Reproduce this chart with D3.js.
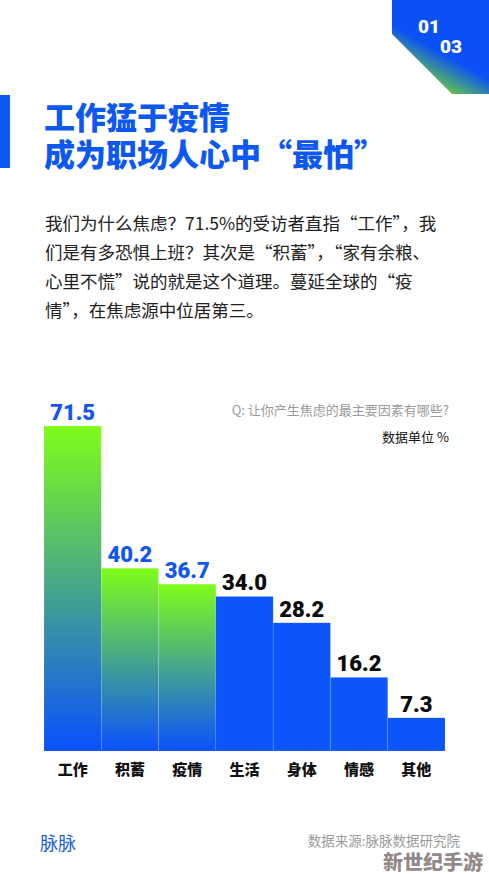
<!DOCTYPE html>
<html>
<head>
<meta charset="utf-8">
<script src="https://cdn.jsdelivr.net/npm/d3@7"></script>
<style>
  html, body { margin: 0; padding: 0; background: #fff; }
  svg { display: block; }
</style>
</head>
<body>
<svg id="chart" width="489" height="874"></svg>
<script>
// data
const categories = ["工作", "积蓄", "疫情", "生活", "身体", "情感", "其他"];
const values = [71.5, 40.2, 36.7, 34.0, 28.2, 16.2, 7.3];
const highlighted = ["工作", "积蓄", "疫情"];

const titleLines = ["工作猛于疫情", "成为职场人心中“最怕”"];
const bodyLines = [
  "我们为什么焦虑？71.5%的受访者直指“工作”，我",
  "们是有多恐惧上班？其次是“积蓄”，“家有余粮、",
  "心里不慌”说的就是这个道理。蔓延全球的“疫",
  "情”，在焦虑源中位居第三。"
];

const width = 489;
const height = 874;
const margin = { left: 44, right: 44, top: 426, bottom: 123 };

const blue = "#0b55fb";
const cjk = "'Noto Sans CJK SC', 'Noto Sans', sans-serif";
const num = "Roboto, 'Liberation Sans', sans-serif";

const svg = d3.select("#chart");

const defs = svg.append("defs");
// gradient for the first three bars, each bar its own box
const g1 = defs.append("linearGradient")
  .attr("id", "barGrad")
  .attr("x1", 0).attr("y1", 0).attr("x2", 0).attr("y2", 1);
g1.append("stop").attr("offset", "0%").attr("stop-color", "#80fc1a");
g1.append("stop").attr("offset", "100%").attr("stop-color", "#0a50fd");

// corner gradient
const g2 = defs.append("linearGradient")
  .attr("id", "cornerGrad")
  .attr("gradientUnits", "userSpaceOnUse")
  .attr("x1", 428).attr("y1", 92).attr("x2", 448).attr("y2", 56);
g2.append("stop").attr("offset", "0%").attr("stop-color", "#7ee41e");
g2.append("stop").attr("offset", "100%").attr("stop-color", "#0a50f5");

// top-right corner badge
svg.append("path")
  .attr("d", "M392,0 L489,0 L489,94 L452,94 L392,34 Z")
  .attr("fill", "url(#cornerGrad)");
svg.append("text")
  .attr("x", 418).attr("y", 26)
  .attr("dominant-baseline", "central")
  .attr("font-family", num).attr("font-weight", 900).attr("font-size", 19)
  .attr("fill", "#fff").text("01");
svg.append("text")
  .attr("x", 440).attr("y", 46)
  .attr("dominant-baseline", "central")
  .attr("font-family", num).attr("font-weight", 900).attr("font-size", 19)
  .attr("fill", "#fff").text("03");

// title (one text, two lines)
svg.append("rect")
  .attr("x", 0).attr("y", 95).attr("width", 10).attr("height", 73)
  .attr("fill", "#0d5af2");
svg.append("text")
  .attr("font-family", cjk)
  .attr("font-weight", 900)
  .attr("font-size", 31)
  .attr("fill", "#0d57f2")
  .selectAll("tspan")
  .data(titleLines)
  .join("tspan")
  .attr("x", 44)
  .attr("y", (d, i) => 115 + i * 37)
  .attr("dominant-baseline", "central")
  .text(d => d);

// body text
svg.append("g")
  .selectAll("text")
  .data(bodyLines)
  .join("text")
  .attr("x", 45)
  .attr("y", (d, i) => 222 + i * 29)
  .attr("dominant-baseline", "central")
  .attr("font-family", cjk)
  .attr("font-size", 17.5)
  .attr("fill", "#222")
  .text(d => d);

// question + unit
svg.append("text")
  .attr("x", 449).attr("y", 409)
  .attr("text-anchor", "end").attr("dominant-baseline", "central")
  .attr("font-family", cjk).attr("font-size", 13)
  .attr("fill", "#9a9a9a")
  .text("Q: 让你产生焦虑的最主要因素有哪些?");
svg.append("text")
  .attr("x", 449).attr("y", 436)
  .attr("text-anchor", "end").attr("dominant-baseline", "central")
  .attr("font-family", cjk).attr("font-size", 13)
  .attr("fill", "#111")
  .text("数据单位 %");

// scales
const x = d3.scaleBand()
  .domain(categories)
  .range([margin.left, width - margin.right])
  .padding(0);

const y = d3.scaleLinear()
  .domain([0, d3.max(values)])
  .range([height - margin.bottom, margin.top]);

const data = categories.map((c, i) => ({ cat: c, value: values[i] }));
const isHi = d => highlighted.includes(d.cat);

// bars
svg.append("g")
  .selectAll("rect")
  .data(data)
  .join("rect")
  .attr("x", d => x(d.cat))
  .attr("y", d => y(d.value))
  .attr("width", x.bandwidth())
  .attr("height", d => y(0) - y(d.value))
  .attr("fill", d => isHi(d) ? "url(#barGrad)" : blue)
  .attr("stroke", "rgba(255,255,255,0.18)")
  .attr("stroke-width", 0.6);

// value labels
svg.append("g")
  .selectAll("text")
  .data(data)
  .join("text")
  .attr("x", d => x(d.cat) + x.bandwidth() / 2)
  .attr("y", d => y(d.value) - 6)
  .attr("text-anchor", "middle")
  .attr("font-family", num)
  .attr("font-weight", 900)
  .attr("font-size", 22)
  .attr("fill", d => isHi(d) ? "#1155f5" : "#0a0a0a")
  .text(d => d.value.toFixed(1));

// x axis
const xAxis = g => g
  .attr("transform", `translate(0, ${height - margin.bottom})`)
  .call(d3.axisBottom(x).tickSize(0).tickPadding(0))
  .call(g => g.select(".domain").remove())
  .call(g => g.selectAll("text")
    .attr("y", 17)
    .attr("dy", null)
    .attr("dominant-baseline", "central")
    .attr("font-family", cjk)
    .attr("font-weight", 900)
    .attr("font-size", 15)
    .attr("fill", "#111"));
svg.append("g").call(xAxis);

// footer
svg.append("text")
  .attr("x", 40).attr("y", 842)
  .attr("dominant-baseline", "central")
  .attr("font-family", cjk).attr("font-size", 18)
  .attr("fill", "#1a5ee8")
  .text("脉脉");
svg.append("text")
  .attr("x", 460).attr("y", 840)
  .attr("text-anchor", "end").attr("dominant-baseline", "central")
  .attr("font-family", cjk).attr("font-size", 13.5)
  .attr("fill", "#9a9a9a")
  .text("数据来源:脉脉数据研究院");
svg.append("text")
  .attr("x", 483).attr("y", 861)
  .attr("text-anchor", "end").attr("dominant-baseline", "central")
  .attr("font-family", cjk).attr("font-weight", 900).attr("font-size", 20)
  .attr("fill", "#7f7474").attr("fill-opacity", 0.85)
  .text("新世纪手游");
</script>
</body>
</html>
